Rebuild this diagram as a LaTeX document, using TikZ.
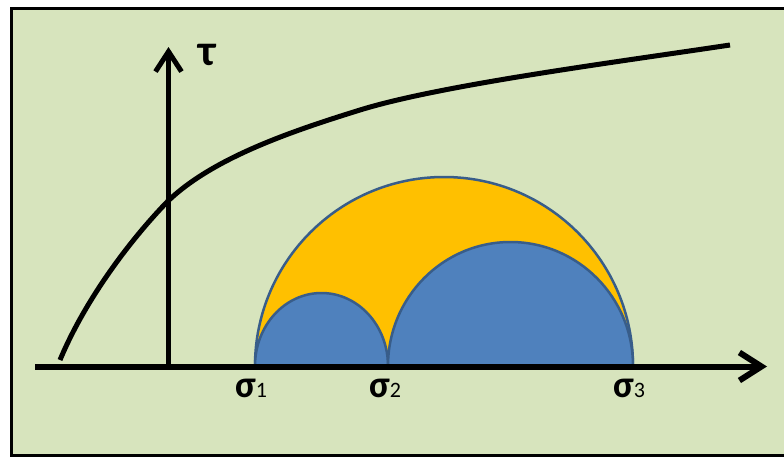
\documentclass[tikz,border=0pt]{standalone}
\usepackage{fontspec}
\setmainfont{Carlito}
\usetikzlibrary{arrows.meta}
\definecolor{mygreen}{RGB}{215,228,189}
\definecolor{myblue}{RGB}{79,129,189}
\definecolor{myedge}{RGB}{56,93,138}
\definecolor{myyellow}{RGB}{255,192,0}
\newcommand{\sigmalabel}[1]{{\fontsize{38}{38}\selectfont\bfseries σ}{\fontsize{22}{22}\selectfont #1}}

\begin{document}
\begin{tikzpicture}[x=1pt,y=-1pt]
\useasboundingbox (0,0) rectangle (784,458);

% frame
\fill[white] (0,0) rectangle (784,458);
\draw[line width=3pt,fill=mygreen] (11.5,8) rectangle (790,455);

% stress circles
\filldraw[fill=myyellow,draw=myedge,line width=2.5pt]
  (255,366) arc[start angle=180,end angle=360,x radius=189,y radius=189] -- cycle;
\filldraw[fill=myblue,draw=myedge,line width=2.5pt]
  (255,366) arc[start angle=180,end angle=360,x radius=66.5,y radius=73] -- cycle;
\filldraw[fill=myblue,draw=myedge,line width=2.5pt]
  (388,366) arc[start angle=180,end angle=360,x radius=122.5,y radius=124] -- cycle;

% axes
\draw[line width=6pt,-{Straight Barb[length=22pt,width=28pt]}] (35,366.5) -- (767,366.5);
\draw[line width=5pt,-{Straight Barb[length=20pt,width=26pt]}] (168.5,369) -- (168.5,47);

% failure envelope
\draw[line width=5pt] (60,360) .. controls (85,300) and (130,240) .. (168,201)
  .. controls (213,158) and (290,131.7) .. (360,110)
  .. controls (440,85.2) and (610,63) .. (730,45);

\node (tau) at (207,55) {\fontsize{44}{44}\selectfont\bfseries τ};
\node (s1) at (251,388) {\sigmalabel{1}};
\node (s2) at (385,388) {\sigmalabel{2}};
\node (s3) at (629,388) {\sigmalabel{3}};

\end{tikzpicture}
\end{document}
